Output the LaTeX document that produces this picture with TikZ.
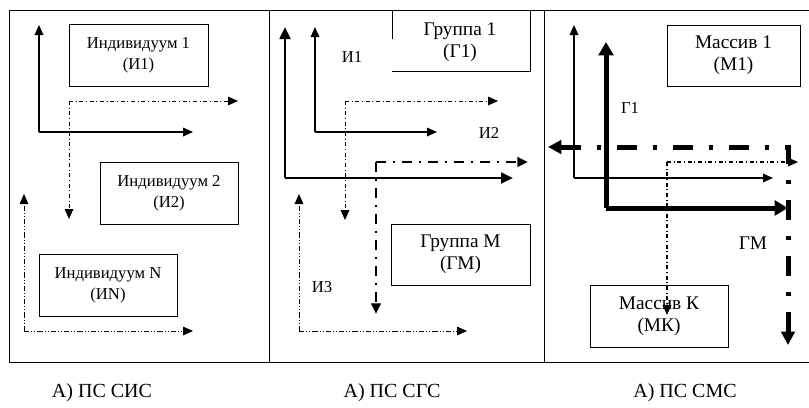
\documentclass[tikz,border=0pt]{standalone}
\usepackage{fontspec}
\setmainfont{Liberation Serif}
\usetikzlibrary{arrows.meta}
\tikzset{
  box/.style={draw, line width=0.75pt, align=center, inner sep=0pt, font=\fontsize{12.5}{16}\selectfont},
  bigbox/.style={box, font=\fontsize{14.5}{16.5}\selectfont},
  lbl/.style={inner sep=0pt, font=\fontsize{12.5}{15}\selectfont},
  captxt/.style={inner sep=0pt, font=\fontsize{15}{18}\selectfont},
  thinsolid/.style={line width=0.9pt, -{Triangle[length=7.5pt,width=6.5pt]}},
  medsolid/.style={line width=2pt, -{Triangle[length=9pt,width=8pt]}},
  thicksolid/.style={line width=3.75pt, -{Triangle[length=10pt,width=11pt]}},
  ddone/.style={line width=0.75pt, dash pattern=on 3pt off 2pt on 0.75pt off 2pt, -{Triangle[length=7.5pt,width=6.5pt]}},
  dddot/.style={line width=0.75pt, dash pattern=on 4pt off 1.5pt on 0.75pt off 1.5pt on 0.75pt off 1.5pt, -{Triangle[length=7.5pt,width=6.5pt]}},
  ddtwo/.style={line width=2pt, dash pattern=on 7.5pt off 5pt on 2pt off 5pt, -{Triangle[length=8pt,width=7pt]}},
  ddthree/.style={line width=3.75pt, dash pattern=on 15pt off 12pt on 3pt off 12pt, {Triangle[length=10pt,width=10pt]}-{Triangle[length=10pt,width=10pt]}},
}
\begin{document}
\begin{tikzpicture}[x=0.75pt,y=-0.75pt]
\useasboundingbox (0,0) rectangle (809,407);
% frame
\draw[line width=0.75pt] (809,10) -- (9,10) -- (9,362) -- (809,362);
\draw[line width=0.75pt] (269,10) -- (269,362);
\draw[line width=0.75pt] (544,10) -- (544,362);

% ---------- Panel 1 ----------
\node[box, minimum width=104.25pt, minimum height=46.5pt] (i1) at (138.5,55) {Индивидуум 1\\(И1)};
\node[box, minimum width=103.5pt, minimum height=46.5pt] (i2) at (169,193) {Индивидуум 2\\(И2)};
\node[box, minimum width=103.5pt, minimum height=46.5pt] (iN) at (108,285) {Индивидуум N\\(ИN)};
\coordinate (a1c) at (39,132);
\coordinate (a1u) at (39,25);
\coordinate (a1r) at (193,132);
\draw[thinsolid] (a1c) -- (a1u);
\draw[thinsolid] (a1c) -- (a1r);
\coordinate (b1c) at (69,101);
\coordinate (b1r) at (238,101);
\coordinate (b1d) at (69,219);
\draw[ddone] (b1c) -- (b1r);
\draw[ddone] (b1c) -- (b1d);
\coordinate (c1c) at (24,331);
\coordinate (c1u) at (24,194);
\coordinate (c1r) at (193,331);
\draw[dddot] (c1c) -- (c1u);
\draw[dddot] (c1c) -- (c1r);
\node[captxt] (cap1) at (102,393) {А) ПС СИС};

% ---------- Panel 2 ----------
\node[lbl, align=center, font=\fontsize{14.5}{16.5}\selectfont] (g1) at (460,42) {Группа 1\\(Г1)};
\draw[line width=0.75pt] (392,10) -- (392,39);
\draw[line width=0.75pt] (392,71) -- (530,71) -- (530,10);
\node[bigbox, minimum width=104.25pt, minimum height=45.75pt] (gM) at (460.5,254.5) {Группа М\\(ГМ)};
\coordinate (a2c) at (285,178);
\coordinate (a2u) at (285,27);
\coordinate (a2r) at (513,178);
\draw[medsolid] (a2c) -- (a2u);
\draw[medsolid] (a2c) -- (a2r);
\coordinate (b2c) at (315,132);
\coordinate (b2u) at (315,27);
\coordinate (b2r) at (437,132);
\draw[thinsolid] (b2c) -- (b2u);
\draw[thinsolid] (b2c) -- (b2r);
\coordinate (c2c) at (345,101);
\coordinate (c2r) at (498,101);
\coordinate (c2d) at (345,220);
\draw[ddone] (c2c) -- (c2r);
\draw[ddone] (c2c) -- (c2d);
\coordinate (d2c) at (376,162);
\coordinate (d2r) at (528,162);
\coordinate (d2d) at (376,314);
\draw[ddtwo] (d2c) -- (d2r);
\draw[ddtwo] (d2c) -- (d2d);
\coordinate (e2c) at (299,331);
\coordinate (e2u) at (299,194);
\coordinate (e2r) at (467,331);
\draw[dddot] (e2c) -- (e2u);
\draw[dddot] (e2c) -- (e2r);
\node[lbl] (li1) at (352,57) {И1};
\node[lbl] (li2) at (489,133) {И2};
\node[lbl] (li3) at (322,287) {И3};
\node[captxt] (cap2) at (392,393) {А) ПС СГС};

% ---------- Panel 3 ----------
\node[bigbox, minimum width=99.75pt, minimum height=45.75pt] (m1) at (733.5,55.5) {Массив 1\\(М1)};
\node[bigbox, minimum width=103.5pt, minimum height=46.5pt] (mK) at (659,316) {Массив К\\(МК)};
\coordinate (a3c) at (574,178);
\coordinate (a3u) at (574,25);
\coordinate (a3r) at (773,178);
\draw[thinsolid] (a3c) -- (a3u);
\draw[thinsolid] (a3c) -- (a3r);
\coordinate (b3c) at (606,208);
\coordinate (b3u) at (606,42);
\coordinate (b3r) at (788,208);
\draw[thicksolid] (b3c) -- (b3u);
\draw[thicksolid] (b3c) -- (b3r);
\coordinate (c3l) at (548,147);
\coordinate (c3c) at (788,147);
\coordinate (c3d) at (788,345);
\draw[ddthree] (c3l) -- (c3c) -- (c3d);
\coordinate (d3c) at (667,162);
\coordinate (d3r) at (798,162);
\coordinate (d3d) at (667,315);
\draw[ddone, line width=1pt] (d3c) -- (d3r);
\draw[ddone, line width=1pt] (d3c) -- (d3d);
\node[lbl] (lg1) at (630,108) {Г1};
\node[lbl, font=\fontsize{14.5}{16}\selectfont] (lgm) at (753,243) {ГМ};
\node[captxt] (cap3) at (685,393) {А) ПС СМС};
\end{tikzpicture}
\end{document}
